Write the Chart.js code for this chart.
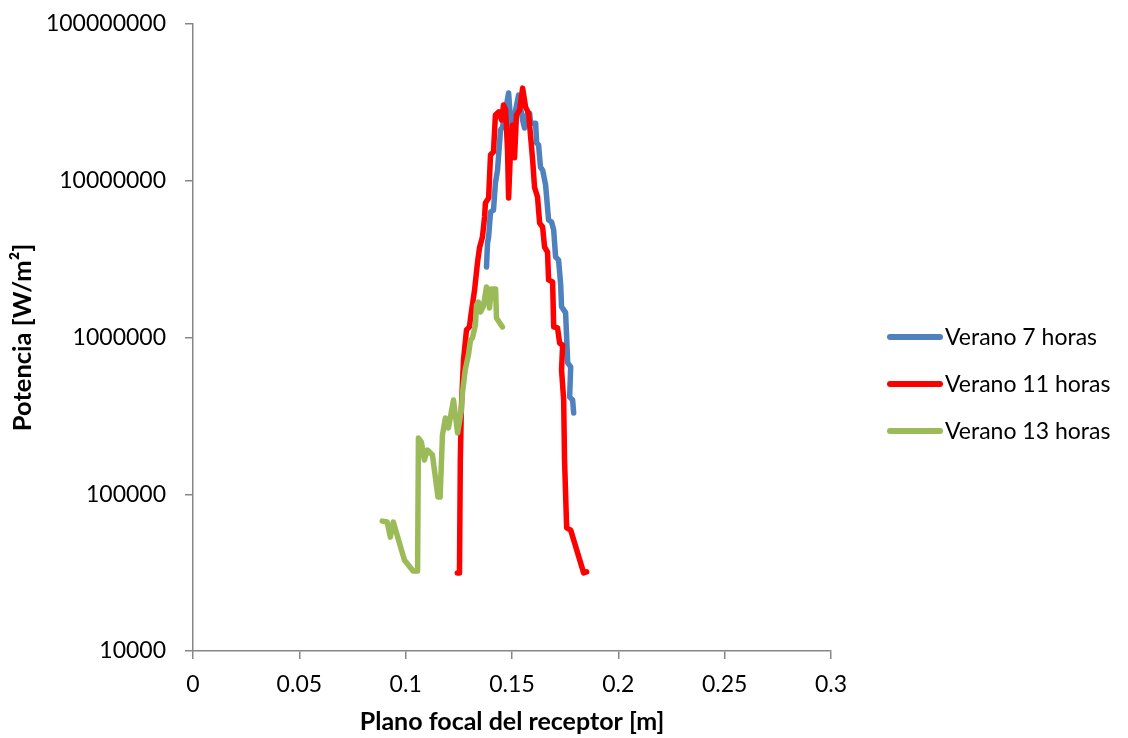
<!DOCTYPE html>
<html>
<head>
<meta charset="utf-8">
<script src="https://cdn.jsdelivr.net/npm/chart.js@4.4.1/dist/chart.umd.min.js"></script>
<style>
  html, body { margin: 0; padding: 0; background: #fff; }
  #wrap { width: 1128px; height: 738px; position: relative; }
</style>
</head>
<body>
<div id="wrap"><canvas id="myChartCanvas"></canvas></div>
<script>
const seriesNames = ['Verano 7 horas', 'Verano 11 horas', 'Verano 13 horas'];
const seriesColors = ['#4F81BD', '#FF0000', '#9BBB59'];

// Verano 7 horas
const x7 = [0.138, 0.1385, 0.139, 0.1399, 0.1413, 0.1422, 0.1432, 0.1446, 0.1455, 0.147, 0.1484, 0.1493,
  0.1502, 0.1517, 0.1531, 0.155, 0.1559, 0.1573, 0.1583, 0.1587, 0.1611, 0.1616, 0.1625, 0.1634, 0.1644,
  0.1658, 0.1672, 0.1686, 0.1696, 0.1705, 0.1719, 0.1729, 0.1733, 0.1743, 0.1752, 0.1762, 0.1776, 0.1771,
  0.1785, 0.179];
const y7 = [2820000, 4010000, 4380000, 6320000, 6500000, 9680000, 11700000, 21100000, 22000000, 28300000,
  36300000, 24400000, 19600000, 28300000, 35200000, 24400000, 21700000, 27000000, 27000000, 23300000,
  23300000, 17400000, 16900000, 12200000, 11700000, 9400000, 5620000, 5460000, 4850000, 3270000, 3120000,
  2160000, 1570000, 1500000, 1440000, 688000, 649000, 417000, 400000, 330000];

// Verano 11 horas
const x11 = [0.1243, 0.1253, 0.1257, 0.1262, 0.1272, 0.1286, 0.130, 0.1305, 0.1324, 0.1338, 0.1347, 0.1361,
  0.1371, 0.1375, 0.139, 0.1399, 0.1413, 0.1422, 0.1437, 0.1451, 0.146, 0.147, 0.1479, 0.1484, 0.1493,
  0.1502, 0.1512, 0.1521, 0.1536, 0.155, 0.1564, 0.1578, 0.1597, 0.1606, 0.162, 0.163, 0.1644, 0.1653,
  0.1667, 0.1672, 0.1691, 0.1696, 0.1714, 0.1724, 0.1738, 0.1733, 0.1743, 0.1747, 0.1757, 0.1776, 0.1837,
  0.1851];
const y11 = [31500, 31500, 165600, 360000, 718000, 1117000, 1170000, 1330000, 2010000, 3030000, 3720000,
  4380000, 5870000, 7210000, 7760000, 14600000, 15300000, 26300000, 27500000, 24400000, 30400000, 28300000,
  15700000, 7760000, 15700000, 22700000, 14000000, 26300000, 28300000, 39000000, 29500000, 27000000,
  13600000, 9100000, 7870000, 5370000, 5070000, 3780000, 3510000, 2330000, 2260000, 1170000, 1150000,
  920000, 895000, 620000, 400000, 166000, 61000, 59000, 31500, 32000];

// Verano 13 horas
const x13 = [0.089, 0.0913, 0.0928, 0.0942, 0.0994, 0.1035, 0.1056, 0.106, 0.1074, 0.1088, 0.1102, 0.1126,
  0.1152, 0.1162, 0.1173, 0.1187, 0.1201, 0.1225, 0.1244, 0.1262, 0.1267, 0.128, 0.1295, 0.1305, 0.1314,
  0.1328, 0.1333, 0.1342, 0.1352, 0.1366, 0.138, 0.1389, 0.1394, 0.1404, 0.1423, 0.1427, 0.1455];
const y13 = [67400, 66500, 53300, 66500, 38100, 32400, 32400, 228500, 215000, 165500, 191400, 177800,
  95900, 95900, 238800, 306300, 264700, 399000, 246000, 344600, 442600, 620500, 773000, 963400, 993000,
  1202000, 1611000, 1683000, 1455000, 1588000, 2099000, 2009000, 1542000, 2039000, 2039000, 1331000,
  1167000];

const yTicks = [10000, 100000, 1000000, 10000000, 100000000];
const xTitle = 'Plano focal del receptor [m]';
const yTitle = 'Potencia [W/m²]';

const toPoints = (xs, ys) => xs.map((x, i) => ({ x: x, y: ys[i] }));
const allX = [x7, x11, x13];
const allY = [y7, y11, y13];

const FONT = 'Lato, "Open Sans", sans-serif';
const axisGrey = '#868686';

const datasets = seriesNames.map((name, i) => ({
  label: name,
  data: toPoints(allX[i], allY[i]),
  borderColor: seriesColors[i],
  backgroundColor: seriesColors[i],
  borderWidth: 5.5,
  pointRadius: 0,
  showLine: true,
  tension: 0,
  borderCapStyle: 'round',
  borderJoinStyle: 'round',
  order: 3 - i
}));

// legend drawn at the right like the original sheet
const sideLegend = {
  id: 'sideLegend',
  afterDraw(chart) {
    const ctx = chart.ctx;
    ctx.save();
    ctx.font = '23px ' + FONT;
    ctx.textBaseline = 'middle';
    ctx.textAlign = 'left';
    seriesNames.forEach((name, i) => {
      const y = 337 + i * 47;
      ctx.strokeStyle = seriesColors[i];
      ctx.lineWidth = 6;
      ctx.lineCap = 'round';
      ctx.beginPath();
      ctx.moveTo(890, y);
      ctx.lineTo(940, y);
      ctx.stroke();
      ctx.fillStyle = '#000';
      ctx.fillText(name, 945, y + 1);
    });
    ctx.restore();
  }
};

const config = {
  type: 'scatter',
  data: { datasets: datasets },
  options: {
    responsive: false,
    animation: false,
    layout: { padding: { top: 24, right: 297, bottom: 0, left: 0 } },
    plugins: {
      legend: { display: false },
      tooltip: { enabled: false }
    },
    scales: {
      x: {
        type: 'linear',
        min: 0,
        max: 0.3,
        ticks: {
          stepSize: 0.05,
          color: '#000',
          padding: 12,
          font: { family: FONT, size: 23 },
          callback: v => String(Number(v.toFixed(2)))
        },
        grid: { drawOnChartArea: false, drawTicks: true, tickLength: 8, color: axisGrey, lineWidth: 1.5 },
        border: { display: true, color: axisGrey, width: 1.5 },
        title: {
          display: true,
          text: xTitle,
          color: '#000',
          font: { family: FONT, size: 25, weight: 'bold' },
          padding: { top: 0, bottom: 1 }
        },
        afterFit: s => { s.height = 87; }
      },
      y: {
        type: 'logarithmic',
        min: 10000,
        max: 100000000,
        afterBuildTicks: s => { s.ticks = yTicks.map(v => ({ value: v })); },
        ticks: {
          color: '#000',
          padding: 19,
          autoSkip: false,
          font: { family: FONT, size: 23 },
          callback: v => String(v)
        },
        grid: { drawOnChartArea: false, drawTicks: true, tickLength: 8, color: axisGrey, lineWidth: 1.5 },
        border: { display: true, color: axisGrey, width: 1.5 },
        title: {
          display: true,
          text: yTitle,
          color: '#000',
          font: { family: FONT, size: 25.5, weight: 'bold' },
          padding: { top: 7, bottom: 0 }
        },
        afterFit: s => {
          s.width = 193;
          s.paddingTop = 0;
          s.paddingBottom = 0;
        }
      }
    }
  },
  plugins: [sideLegend]
};

const canvasEl = document.getElementById('myChartCanvas');
canvasEl.width = 1128;
canvasEl.height = 738;
const powerChart = new Chart(canvasEl, config);
</script>
</body>
</html>
